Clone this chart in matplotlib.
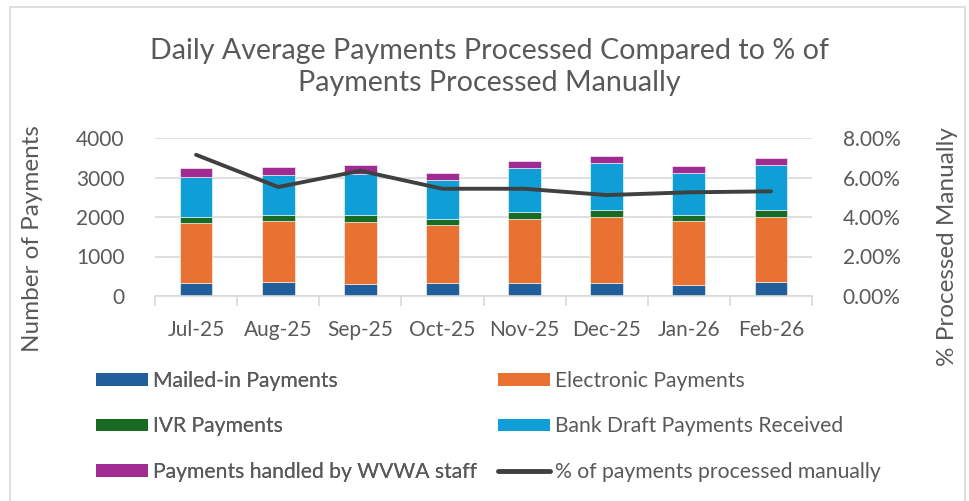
import matplotlib
matplotlib.use("Agg")
import matplotlib.pyplot as plt
from matplotlib.patches import Patch, Rectangle
from matplotlib.lines import Line2D
import numpy as np

plt.rcParams['font.family'] = ['Lato', 'DejaVu Sans']

months = ["Jul-25", "Aug-25", "Sep-25", "Oct-25", "Nov-25", "Dec-25", "Jan-26", "Feb-26"]
mailed = [319, 344, 294, 319, 328, 328, 278, 354]
electronic = [1519, 1545, 1579, 1478, 1629, 1680, 1611, 1646]
ivr = [152, 152, 168, 143, 160, 169, 152, 168]
bank_draft = [1013, 1030, 1055, 997, 1123, 1190, 1081, 1148]
wvwa = [237, 185, 211, 167, 185, 168, 169, 178]
pct_manual = [7.15, 5.52, 6.34, 5.43, 5.43, 5.11, 5.25, 5.30]

series_names = ["Mailed-in Payments", "Electronic Payments", "IVR Payments",
                "Bank Draft Payments Received", "Payments handled by WVWA staff"]
line_name = "% of payments processed manually"
colors = ["#215F9A", "#E97132", "#196B24", "#0F9ED5", "#A02B93"]
line_color = "#404040"
text_color = "#595959"
grid_color = "#D9D9D9"

W, H = 969, 501
fig = plt.figure(figsize=(W / 100, H / 100), dpi=100)

# chart border
fig.patches.append(Rectangle((10 / W, -0.1), 955 / W, 1.1 - 7 / H, transform=fig.transFigure,
                             fill=False, edgecolor=grid_color, linewidth=1.2))

ax = fig.add_axes([155 / W, 1 - 296 / H, (812 - 155) / W, (296 - 138) / H])
x = np.arange(len(months))
bottom = np.zeros(len(months))
for vals, c in zip([mailed, electronic, ivr, bank_draft, wvwa], colors):
    ax.bar(x, vals, width=0.40, bottom=bottom, color=c, edgecolor='white', linewidth=0.4, zorder=3)
    bottom += np.array(vals)

ax.set_ylim(0, 4000)
ax.set_yticks([0, 1000, 2000, 3000, 4000])
ax.set_xlim(-0.5, len(months) - 0.5)
ax.set_xticks(x)
ax.set_xticklabels(months)
ax.set_xticks(np.arange(-0.5, len(months)), minor=True)
ax.tick_params(axis='x', which='major', length=0, pad=17, labelsize=15, labelcolor=text_color)
ax.tick_params(axis='x', which='minor', length=7, width=1.2, color=grid_color)
ax.tick_params(axis='y', length=0, pad=22, labelsize=15, labelcolor=text_color)
ax.grid(axis='y', color=grid_color, linewidth=1.2, zorder=0)
for s in ['top', 'right', 'left']:
    ax.spines[s].set_visible(False)
ax.spines['bottom'].set_color(grid_color)
ax.spines['bottom'].set_linewidth(1.2)
ax.spines['bottom'].set_zorder(4)
ax.set_ylabel("Number of Payments", fontsize=17.5, color=text_color)
ax.yaxis.set_label_coords(43 / W, 1 - 239 / H, transform=fig.transFigure)

ax2 = ax.twinx()
ax2.plot(x, pct_manual, color=line_color, linewidth=2.8, solid_capstyle='round',
         solid_joinstyle='round', zorder=5)
ax2.set_ylim(0, 8)
ax2.set_yticks([0, 2, 4, 6, 8])
ax2.set_yticklabels([f"{v:.2f}%" for v in [0, 2, 4, 6, 8]])
ax2.tick_params(axis='y', length=0, pad=22, labelsize=15, labelcolor=text_color)
for s in ['top', 'right', 'left', 'bottom']:
    ax2.spines[s].set_visible(False)
ax2.set_ylabel("% Processed Manually", fontsize=17.5, color=text_color)
ax2.yaxis.set_label_coords(937 / W, 1 - 247 / H, transform=fig.transFigure)

fig.text(489 / W, 1 - 67 / H,
         "Daily Average Payments Processed Compared to % of\nPayments Processed Manually",
         ha='center', va='center', fontsize=20.6, color=text_color, linespacing=1.3)

patch_kw = dict(linewidth=0)
h = [Patch(facecolor=c, **patch_kw) for c in colors]
hl = Line2D([0], [0], color=line_color, linewidth=3.5, solid_capstyle='round')

leg_kw = dict(frameon=False, fontsize=15.2, labelcolor=text_color, handlelength=2.45,
              handleheight=0.55, handletextpad=0.25, labelspacing=1.2, borderpad=0,
              borderaxespad=0)
leg1 = fig.legend([h[0], h[2], h[4]], [series_names[0], series_names[2], series_names[4]],
                  loc='upper left', bbox_to_anchor=(96 / W, 1 - 371 / H), **leg_kw)
fig.add_artist(leg1)
leg2 = fig.legend([h[1], h[3], hl], [series_names[1], series_names[3], line_name],
                  loc='upper left', bbox_to_anchor=(498 / W, 1 - 371 / H), **leg_kw)

fig.savefig("out.png", dpi=100)
